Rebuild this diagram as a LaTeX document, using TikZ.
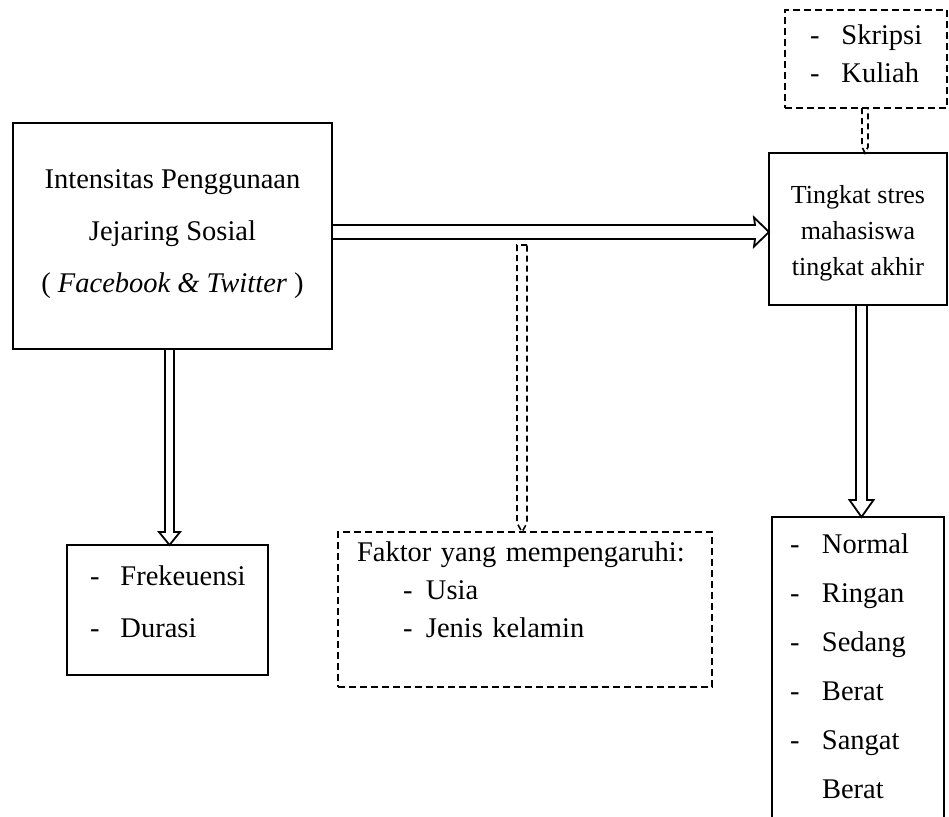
\documentclass[tikz,border=0pt]{standalone}
\usepackage{fontspec}
\setmainfont{Liberation Serif}
\usetikzlibrary{calc}

\begin{document}
\begin{tikzpicture}[x=1pt,y=-1pt,
    box/.style={draw, line width=1.8pt, inner sep=0pt, outer sep=0pt, anchor=north},
    dashbox/.style={box, dash pattern=on 7pt off 4pt},
    hollow/.style={line width=1.8pt, line join=miter},
    thindash/.style={line width=1.6pt, dash pattern=on 6pt off 4pt}]
    \useasboundingbox (0,0) rectangle (949,816);
    \clip (0,0) rectangle (949,816);
    % main boxes
    \node[box, minimum width=319pt, text height=169pt, text depth=57pt, align=center,
          font=\fontsize{28.5}{52}\selectfont] (intensitas) at (172.5,123)
      {Intensitas Penggunaan\\Jejaring Sosial\\( \textit{Facebook \& Twitter} )};
    \node[box, minimum width=178pt, text height=122pt, text depth=30pt, align=center,
          font=\fontsize{26}{36}\selectfont] (stres) at (858,153)
      {Tingkat stres\\mahasiswa\\tingkat akhir};
    % dashed boxes
    \node[dashbox, minimum width=162pt, text width=112pt, text height=35pt, text depth=63pt,
          font=\fontsize{28.5}{38}\selectfont] (skripsi) at (866,10)
      {\begin{tabular}[t]{@{}l@{\hspace{22pt}}l@{}}- & Skripsi\\- & Kuliah\end{tabular}};
    \node[dashbox, minimum width=374pt, text width=336pt, text height=29pt, text depth=126pt,
          align=left, font=\fontsize{28.5}{38}\selectfont] (faktor) at (525,532)
      {Faktor yang mempengaruhi:\\
       \hspace*{46pt}-\hspace{13.5pt}Usia\\
       \hspace*{46pt}-\hspace{13.5pt}Jenis kelamin};
    % result boxes
    \node[box, minimum width=201pt, text width=155pt, text height=40pt, text depth=90pt,
          font=\fontsize{28.5}{52}\selectfont] (freq) at (167.5,545)
      {\begin{tabular}[t]{@{}l@{\hspace{21pt}}l@{}}- & Frekeuensi\\- & Durasi\end{tabular}};
    \node[box, minimum width=172pt, text width=136pt, text height=36pt, text depth=314pt,
          font=\fontsize{28.5}{49}\selectfont] (normal) at (858,517)
      {\begin{tabular}[t]{@{}l@{\hspace{22.5pt}}l@{}}- & Normal\\- & Ringan\\- & Sedang\\
        - & Berat\\- & Sangat\\ & Berat\end{tabular}};
    % helper coordinates
    \coordinate (arrowrow) at (0,232);
    \coordinate (leftcol) at (169.5,0);
    \coordinate (rightcol) at (861.5,0);
    \coordinate (faktorcol) at (522,0);
    \coordinate (skripsicol) at (865,0);
    % hollow arrows
    \draw[hollow] let \p1=(intensitas.east |- arrowrow), \p2=(stres.west |- arrowrow) in
      (\x1,\y1+7pt) -- (\x2-14pt,\y1+7pt) -- (\x2-15pt,\y1+14.5pt) -- (\x2,\y1)
      -- (\x2-15pt,\y1-14.5pt) -- (\x2-14pt,\y1-7pt) -- (\x1,\y1-7pt);
    \draw[hollow] let \p1=(leftcol |- intensitas.south), \p2=(leftcol |- freq.north) in
      (\x1-4.5pt,\y1) -- (\x1-4.5pt,\y2+13pt) -- (\x1-10.5pt,\y2+13pt) -- (\x1,\y2)
      -- (\x1+10.5pt,\y2+13pt) -- (\x1+4.5pt,\y2+13pt) -- (\x1+4.5pt,\y1);
    \draw[hollow] let \p1=(rightcol |- stres.south), \p2=(rightcol |- normal.north) in
      (\x1-5.5pt,\y1) -- (\x1-5.5pt,\y2+17pt) -- (\x1-12pt,\y2+17pt) -- (\x1,\y2)
      -- (\x1+12pt,\y2+17pt) -- (\x1+5.5pt,\y2+17pt) -- (\x1+5.5pt,\y1);
    % dashed links
    \draw[thindash] let \p1=(faktorcol |- arrowrow), \p2=(faktorcol |- faktor.north) in
      (\x1+5pt,\y1-13pt) -- (\x1-5pt,\y1-13pt) -- (\x1-5pt,\y2+9pt) -- (\x1,\y2)
      -- (\x1+5pt,\y2+9pt) -- cycle;
    \draw[thindash] let \p1=(skripsicol |- skripsi.south), \p2=(skripsicol |- stres.north) in
      (\x1-3pt,\y1) -- (\x1-3pt,\y2+6pt) -- (\x1,\y2) -- (\x1+3pt,\y2+6pt) -- (\x1+3pt,\y1);
\end{tikzpicture}
\end{document}
